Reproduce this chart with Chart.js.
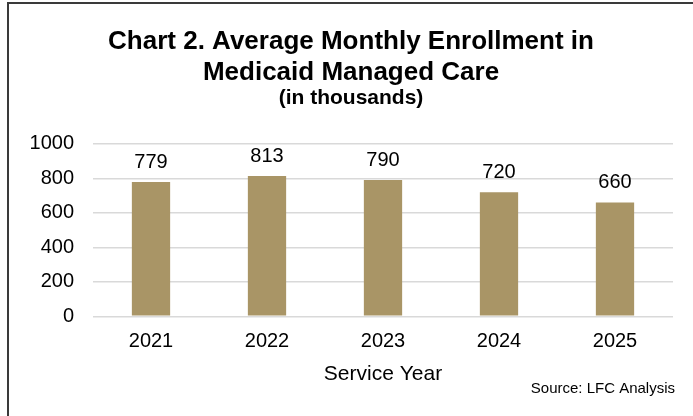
<!DOCTYPE html>
<html>
<head>
<meta charset="utf-8">
<script src="https://cdn.jsdelivr.net/npm/chart.js@4.4.1/dist/chart.umd.min.js"></script>
<style>
  html, body { margin: 0; padding: 0; background: #fff; overflow: hidden; }
  #wrap { position: relative; width: 693px; height: 416px; }
  #frame {
    position: absolute; left: 7px; top: 2px; width: 1000px; height: 1000px;
    border-left: 2px solid #3a3a3a; border-top: 2px solid #3a3a3a;
  }
  canvas { position: absolute; left: 0; top: 0; }
</style>
</head>
<body>
<div id="wrap">
  <div id="frame"></div>
  <canvas id="chart" width="693" height="416"></canvas>
</div>
<script>
const years = ['2021', '2022', '2023', '2024', '2025'];
const enrollment = [779, 813, 790, 720, 660];
const yTicks = [0, 200, 400, 600, 800, 1000];

const FONT = "'Liberation Sans', Arial, sans-serif";

// value above each bar, taken from the bar element itself
const barValues = {
  id: 'barValues',
  afterDatasetsDraw(chart) {
    const ctx = chart.ctx;
    const meta = chart.getDatasetMeta(0);
    ctx.save();
    ctx.font = '20px ' + FONT;
    ctx.fillStyle = '#000';
    ctx.textAlign = 'center';
    ctx.textBaseline = 'middle';
    meta.data.forEach((bar, i) => {
      ctx.fillText(String(enrollment[i]), bar.x, bar.y - 20);
    });
    ctx.restore();
  }
};

const sourceNote = {
  id: 'sourceNote',
  afterDraw(chart) {
    const ctx = chart.ctx;
    ctx.save();
    ctx.font = '15px ' + FONT;
    ctx.fillStyle = '#000';
    ctx.textAlign = 'right';
    ctx.textBaseline = 'middle';
    ctx.fillText('Source: LFC Analysis', 675, 389);
    ctx.restore();
  }
};

new Chart(document.getElementById('chart'), {
  type: 'bar',
  data: {
    labels: years,
    datasets: [{
      data: enrollment,
      backgroundColor: '#A99566',
      barPercentage: 0.33,
      categoryPercentage: 1
    }]
  },
  options: {
    responsive: false,
    animation: false,
    events: [],
    layout: { padding: { left: 29, right: 20, top: 0, bottom: 29 } },
    plugins: {
      legend: { display: false },
      tooltip: { enabled: false },
      title: {
        display: true,
        text: ['Chart 2. Average Monthly Enrollment in', 'Medicaid Managed Care'],
        color: '#000',
        font: { family: FONT, size: 26, weight: 'bold', lineHeight: 1.19 },
        padding: { top: 26, bottom: 0 }
      },
      subtitle: {
        display: true,
        text: '(in thousands)',
        color: '#000',
        font: { family: FONT, size: 21, weight: 'bold', lineHeight: 1 },
        padding: { top: 0, bottom: 35 }
      }
    },
    scales: {
      x: {
        grid: { display: false },
        border: { display: false },
        ticks: { color: '#000', font: { family: FONT, size: 20 }, padding: 5.5 },
        title: {
          display: true,
          text: 'Service Year',
          color: '#000',
          font: { family: FONT, size: 21 },
          padding: { top: 2.5, bottom: 0 }
        }
      },
      y: {
        min: 0,
        max: 1000,
        afterBuildTicks(scale) {
          scale.ticks = yTicks.map(v => ({ value: v }));
        },
        // fixed axis width so the plot starts at the same x regardless of label width
        afterFit(scale) {
          scale.width = 64;
        },
        grid: { color: '#d9d9d9', lineWidth: 1.5, drawTicks: false },
        border: { display: false },
        ticks: {
          color: '#000',
          font: { family: FONT, size: 20 },
          padding: 19,
          callback: v => String(v)
        }
      }
    }
  },
  plugins: [barValues, sourceNote]
});
</script>
</body>
</html>
